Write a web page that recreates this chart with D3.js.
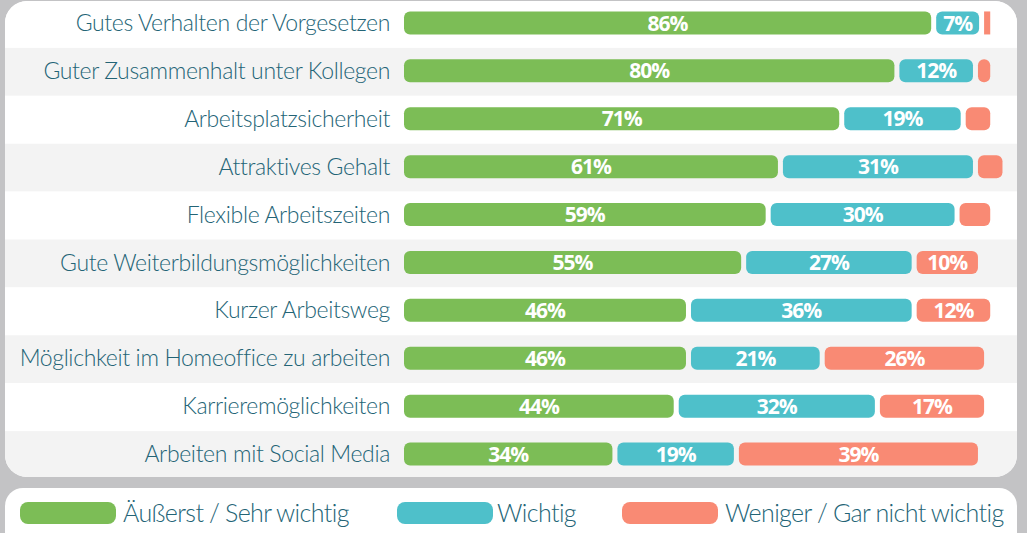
<!DOCTYPE html>
<html>
<head>
<meta charset="utf-8">
<script src="https://cdn.jsdelivr.net/npm/d3@7"></script>
<style>
  html, body { margin: 0; padding: 0; background: #c3c3c5; }
  svg { display: block; }
</style>
</head>
<body>
<div id="chart"></div>
<script>
const categories = [
  "Gutes Verhalten der Vorgesetzen",
  "Guter Zusammenhalt unter Kollegen",
  "Arbeitsplatzsicherheit",
  "Attraktives Gehalt",
  "Flexible Arbeitszeiten",
  "Gute Weiterbildungsmöglichkeiten",
  "Kurzer Arbeitsweg",
  "Möglichkeit im Homeoffice zu arbeiten",
  "Karrieremöglichkeiten",
  "Arbeiten mit Social Media"
];
const sehrWichtig = [86, 80, 71, 61, 59, 55, 46, 46, 44, 34];
const wichtig     = [7, 12, 19, 31, 30, 27, 36, 21, 32, 19];
const weniger     = [1, 2, 4, 4, 5, 10, 12, 26, 17, 39];
// labels shown inside bars (small ones are not labelled)
const showLabel   = [[true, true, false], [true, true, false], [true, true, false], [true, true, false],
                     [true, true, false], [true, true, true], [true, true, true], [true, true, true],
                     [true, true, true], [true, true, true]];
const seriesNames = ["Äußerst / Sehr wichtig", "Wichtig", "Weniger / Gar nicht wichtig"];
const colors = ["#7cbd56", "#4ec0ca", "#f98a74"];

const W = 1027, H = 533;
const textColor = "#236476";
const labelFont = "Lato, 'Open Sans', sans-serif";
const numFont = "'Open Sans', sans-serif";

const svg = d3.select("#chart").append("svg")
  .attr("width", W).attr("height", H);

// main panel
const panel = { x: 5, y: 1, w: 1012, h: 476 };
svg.append("clipPath").attr("id", "panelClip")
  .append("rect")
  .attr("x", panel.x).attr("y", panel.y)
  .attr("width", panel.w).attr("height", panel.h)
  .attr("rx", 22);
svg.append("rect")
  .attr("x", panel.x).attr("y", panel.y)
  .attr("width", panel.w).attr("height", panel.h)
  .attr("rx", 22).attr("fill", "#fff");

const y = d3.scaleBand().domain(categories).range([0, 479]).padding(0);
const x = d3.scaleLinear().domain([0, 100]).range([0, 613]);
const x0 = 404, gap = 5, barH = 23;

const rowsG = svg.append("g").attr("clip-path", "url(#panelClip)");
rowsG.selectAll("rect.band")
  .data(categories)
  .join("rect")
  .attr("class", "band")
  .attr("x", panel.x).attr("width", panel.w)
  .attr("y", d => y(d)).attr("height", y.bandwidth())
  .attr("fill", (d, i) => i % 2 ? "#f3f3f3" : "#ffffff");

// category labels
svg.append("g").selectAll("text")
  .data(categories)
  .join("text")
  .attr("x", 390)
  .attr("y", d => y(d) + y.bandwidth() / 2 - 1)
  .attr("dy", "0.35em")
  .attr("text-anchor", "end")
  .attr("fill", textColor)
  .style("font-family", labelFont)
  .style("font-weight", 300)
  .style("font-size", "23px")
  .style("letter-spacing", "-0.35px")
  .text(d => d);

// stacked segments
const segs = [];
categories.forEach((c, i) => {
  const vals = [sehrWichtig[i], wichtig[i], weniger[i]];
  let cum = 0;
  vals.forEach((v, j) => {
    segs.push({ cat: c, j, v, start: cum, label: showLabel[i][j] });
    cum += v;
  });
});

const barG = svg.append("g");
barG.selectAll("rect")
  .data(segs)
  .join("rect")
  .attr("x", d => x0 + x(d.start) + d.j * gap)
  .attr("y", d => y(d.cat) + (y.bandwidth() - barH) / 2 - 1)
  .attr("width", d => x(d.v))
  .attr("height", barH)
  .attr("rx", d => x(d.v) / 2 > 4 ? 6 : 0)
  .attr("fill", d => colors[d.j]);

barG.selectAll("text")
  .data(segs.filter(d => d.label))
  .join("text")
  .attr("x", d => x0 + x(d.start) + d.j * gap + x(d.v) / 2)
  .attr("y", d => y(d.cat) + y.bandwidth() / 2 - 1)
  .attr("dy", "0.36em")
  .attr("text-anchor", "middle")
  .attr("fill", "#fff")
  .style("font-family", numFont)
  .style("font-weight", "bold")
  .style("font-size", "21px")
  .style("letter-spacing", "-1px")
  .text(d => d.v + "%");

// legend panel
svg.append("rect")
  .attr("x", panel.x).attr("y", 488)
  .attr("width", panel.w).attr("height", 80)
  .attr("rx", 18).attr("fill", "#fff");

const legendX = [20, 397, 622];
const legend = svg.append("g");
seriesNames.forEach((name, i) => {
  const g = legend.append("g").attr("transform", `translate(${legendX[i]},502)`);
  g.append("rect")
    .attr("width", 96).attr("height", 22).attr("rx", 8)
    .attr("fill", colors[i]);
  g.append("text")
    .attr("x", i === 1 ? 100 : 103).attr("y", 11).attr("dy", "0.35em")
    .attr("fill", textColor)
    .style("font-family", labelFont)
    .style("font-weight", 300)
    .style("font-size", "25px")
    .style("letter-spacing", "-0.6px")
    .style("word-spacing", "-0.5px")
    .text(name);
});
</script>
</body>
</html>
